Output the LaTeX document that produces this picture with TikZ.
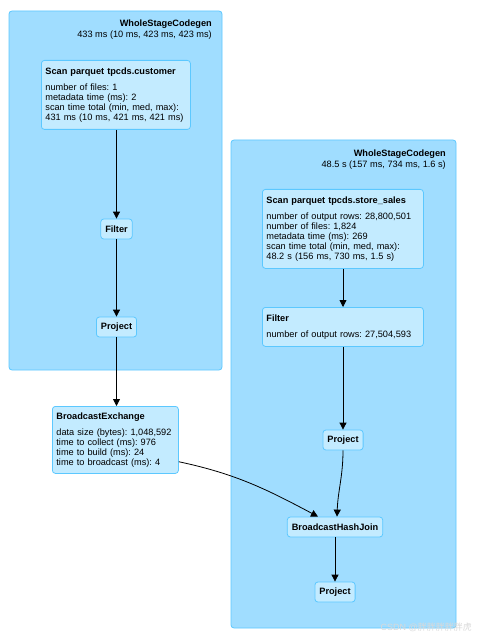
\documentclass[tikz,border=0pt]{standalone}
\usepackage{fontspec}
\setmainfont{Liberation Sans}
\newfontfamily\cjkfont{Noto Sans CJK SC}
\usetikzlibrary{arrows.meta,positioning}
\frenchspacing
\definecolor{clusterfill}{HTML}{A0DDFF}
\definecolor{nodefill}{HTML}{C3EBFF}
\definecolor{sparkline}{HTML}{5CC8FF}
\tikzset{
  cluster/.style={draw=sparkline,fill=clusterfill,rounded corners=3pt,line width=.8pt},
  ctitle/.style={anchor=north east,align=right,inner sep=0pt,font=\fontsize{9.2}{10.5}\selectfont},
  opnode/.style={draw=sparkline,fill=nodefill,rounded corners=3pt,line width=.8pt,
    inner sep=4.5pt,font=\fontsize{9.2}{10}\selectfont\bfseries,minimum height=20pt},
  metricnode/.style={draw=sparkline,fill=nodefill,rounded corners=3pt,line width=.8pt,
    inner xsep=4pt,inner ysep=5pt,anchor=north west,align=left,font=\fontsize{9.2}{10}\selectfont},
  edge/.style={line width=.8pt,-{Triangle[length=7pt,width=7pt]}}
}
\begin{document}
\begin{tikzpicture}[x=1pt,y=-1pt]
\useasboundingbox (0,0) rectangle (478,636);
% stage clusters
\draw[cluster] (9,11) rectangle (222,370);
\draw[cluster] (231,140) rectangle (456,628);
\node[ctitle] (wsc1) at (212,20) {\textbf{WholeStageCodegen}\\433 ms (10 ms, 423 ms, 423 ms)};
\node[ctitle] (wsc2) at (446,150) {\textbf{WholeStageCodegen}\\48.5 s (157 ms, 734 ms, 1.6 s)};
% left stage
\node[metricnode,text width=141pt,minimum height=69pt] (scancust) at (41,60)
  {\textbf{Scan parquet tpcds.customer}\\[6pt]
   number of files: 1\\metadata time (ms): 2\\scan time total (min, med, max):\\431 ms (10 ms, 421 ms, 421 ms)};
\node[opnode] (filter1) at (116.5,229) {Filter};
\node[opnode] (proj1) at (116.5,327) {Project};
% exchange
\node[metricnode,text width=118pt,minimum height=67pt] (bex) at (52,406)
  {\textbf{BroadcastExchange}\\[6pt]
   data size (bytes): 1,048,592\\time to collect (ms): 976\\time to build (ms): 24\\time to broadcast (ms): 4};
% right stage
\node[metricnode,text width=153pt,minimum height=79pt] (scanss) at (262,189)
  {\textbf{Scan parquet tpcds.store\_sales}\\[6pt]
   number of output rows: 28,800,501\\number of files: 1,824\\metadata time (ms): 269\\scan time total (min, med, max):\\48.2 s (156 ms, 730 ms, 1.5 s)};
\node[metricnode,text width=153pt,minimum height=39pt] (filter2) at (262,307)
  {\textbf{Filter}\\[6pt]number of output rows: 27,504,593};
\node[opnode] (proj2) at (343,440) {Project};
\node[opnode] (bhj) at (335,527) {BroadcastHashJoin};
\node[opnode] (proj3) at (335,592) {Project};
% edges
\draw[edge] (scancust.south -| filter1) -- (filter1);
\draw[edge] (filter1) -- (proj1);
\draw[edge] (proj1) -- (proj1 |- bex.north);
\draw[edge] (scanss.south -| proj2) -- (filter2.north -| proj2);
\draw[edge] (filter2.south -| proj2) -- (proj2);
\draw[edge] (bex.-19) to[out=-12,in=152] ([xshift=-17pt]bhj.north);
\draw[edge] (proj2) to[out=-90,in=88] ([xshift=2pt]bhj.north);
\draw[edge] (bhj) -- (proj3);
% watermark
\node[anchor=south east,inner sep=0pt,text=white!70!gray,font=\fontsize{9}{10}\selectfont] (mark) at (472,632) {CSDN @{\cjkfont 胖胖胖胖胖虎}};
\end{tikzpicture}
\end{document}
